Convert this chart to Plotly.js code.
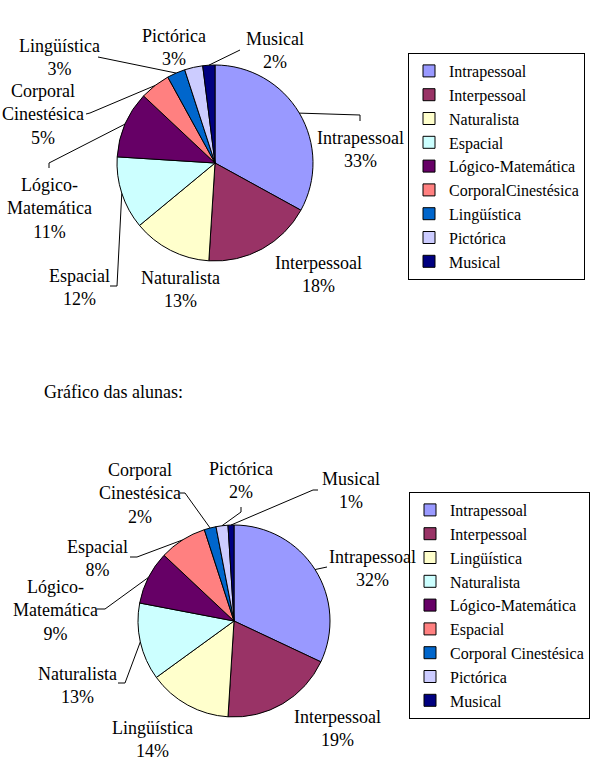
<!DOCTYPE html>
<html>
<head>
<meta charset="utf-8">
<script src="https://cdn.plot.ly/plotly-3.0.1.min.js"></script>
</head>
<body style="margin:0">
<div id="chart" style="width:595px;height:761px"></div>
<script>
// ---------- DATA ----------
const legend1Names = ["Intrapessoal","Interpessoal","Naturalista","Espacial","Lógico-Matemática","CorporalCinestésica","Lingüística","Pictórica","Musical"];
const label1Text   = ["Intrapessoal","Interpessoal","Naturalista","Espacial","Lógico-<br>Matemática","Corporal<br>Cinestésica","Lingüística","Pictórica","Musical"];
const values1      = [33, 18, 13, 12, 11, 5, 3, 3, 2];

const legend2Names = ["Intrapessoal","Interpessoal","Lingüística","Naturalista","Lógico-Matemática","Espacial","Corporal Cinestésica","Pictórica","Musical"];
const label2Text   = ["Intrapessoal","Interpessoal","Lingüística","Naturalista","Lógico-<br>Matemática","Espacial","Corporal<br>Cinestésica","Pictórica","Musical"];
const values2      = [32, 19, 14, 13, 9, 8, 2, 2, 1];

const sliceColors = ["#9999FF","#993366","#FFFFCC","#CCFFFF","#660066","#FF8080","#0066CC","#CCCCFF","#000080"];

const subtitle = "Gráfico das alunas:";

// ---------- LAYOUT CONSTANTS ----------
const W = 595, H = 761;
const FONT = "Times New Roman";
const pieGeom = [{cx:215, cy:163, r:98}, {cx:234, cy:621, r:96}];
// label centres (px)
const labelPos1 = [[360,149],[318,275],[180,290],[79,287],[49,208],[43,114],[59,58],[174,48],[275,51]];
const labelPos2 = [[372,568],[337,728],[153,739],[77,685],[55,610],[97,558],[140,493],[241,481],[351,491]];
// leader-line points on the label side (px), null = no leader
const leader1 = [[[360,121],[360,115]], null, null, [[110,286],[117,286]], [[49,168],[49,163]], [[86,114],[90,113]], [[98,57]], null, [[240,50]]];
const leader2 = [[[327,567]], null, null, [[118,683],[125,683]], [[97,609],[105,609]], [[130,557],[137,557]], [[180,493],[185,493]], [[241,507],[241,512]], [[318,490],[313,490]]];

const px = x => x / W;
const py = y => 1 - y / H;

function domainOf(g){
  return {x:[px(g.cx-g.r), px(g.cx+g.r)], y:[py(g.cy+g.r), py(g.cy-g.r)]};
}

function pieTrace(names, vals, g, legendId, suffix){
  return {
    type:"pie", labels:names.map(n=>n+suffix), values:vals, sort:false, direction:"clockwise", rotation:0,
    textinfo:"none", textposition:"none", hoverinfo:"label+percent",
    marker:{colors:sliceColors, line:{color:"#000", width:1}},
    domain:domainOf(g), legend:legendId, showlegend:true
  };
}

function edgePoint(vals, i, g){
  const tot = vals.reduce((a,b)=>a+b,0);
  let cum = 0; for (let k=0;k<i;k++) cum += vals[k];
  const th = 2*Math.PI*(cum + vals[i]/2)/tot;
  return [g.cx + g.r*Math.sin(th), g.cy - g.r*Math.cos(th)];
}

const annotations = [];
const shapes = [];
function addLabels(texts, vals, pos, leaders, g){
  texts.forEach((t,i)=>{
    annotations.push({xref:"paper", yref:"paper", x:px(pos[i][0]), y:py(pos[i][1]),
      xanchor:"center", yanchor:"middle", showarrow:false, align:"center",
      text: t + "<br>" + vals[i] + "%", font:{family:FONT, size:18, color:"#000"}});
    if (leaders[i]){
      const pts = leaders[i].concat([edgePoint(vals, i, g)]);
      const path = pts.map((p,k)=>(k?"L":"M")+px(p[0])+","+py(p[1])).join(" ");
      shapes.push({type:"path", xref:"paper", yref:"paper", path:path, line:{color:"#000", width:1}});
    }
  });
}
addLabels(label1Text, values1, labelPos1, leader1, pieGeom[0]);
addLabels(label2Text, values2, labelPos2, leader2, pieGeom[1]);

annotations.push({xref:"paper", yref:"paper", x:px(42), y:py(392), xanchor:"left", yanchor:"middle",
  showarrow:false, text:subtitle, font:{family:FONT, size:18, color:"#000"}});

const legendStyle = {bgcolor:"#fff", bordercolor:"#000", borderwidth:1,
  font:{family:FONT, size:16, color:"#000"}, xanchor:"right", yanchor:"top", traceorder:"normal"};

const layout = {
  width:W, height:H, margin:{l:0,r:0,t:0,b:0},
  showlegend:true,
  legend:Object.assign({x:px(585), y:py(53)}, legendStyle),
  legend2:Object.assign({x:px(590), y:py(492)}, legendStyle),
  annotations:annotations, shapes:shapes
};

Plotly.newPlot("chart", [pieTrace(legend1Names, values1, pieGeom[0], "legend", ""), pieTrace(legend2Names, values2, pieGeom[1], "legend2", "\u200B")], layout, {displayModeBar:false});
</script>
</body>
</html>
